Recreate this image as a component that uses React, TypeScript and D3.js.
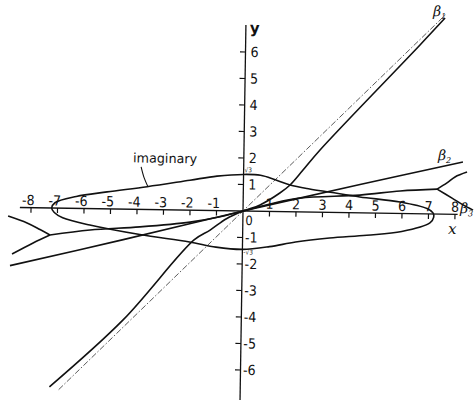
import React from "react";
import * as d3 from "d3";

// Roots beta of the characteristic equation plotted against x.
type Pt = [number, number];

const xTickValues = [-8, -7, -6, -5, -4, -3, -2, -1, 1, 2, 3, 4, 5, 6, 7, 8];
const yTickValues = [-6, -5, -4, -3, -2, -1, 1, 2, 3, 4, 5, 6];

// beta1: real root approaching the asymptote beta = x
const beta1: Pt[] = [
  [-7.2, -6.75], [-4.46, -4.18], [-1.83, -1.12], [-1.23, -0.74], [-0.62, -0.3], [0, 0],
  [0.64, 0.24], [1.38, 0.7], [1.76, 1.01], [2.24, 1.58], [2.87, 2.35], [6.58, 6.37], [7.51, 7.4],
];
// asymptote beta = x (dash-dot)
const asymptote: Pt[] = [[-6.85, -6.85], [7.55, 7.55]];

// beta2: nearly straight real root
const beta2: Pt[] = [
  [-8.76, -2.2], [-4.5, -1.15], [0, 0], [4.4, 1.07], [8.27, 1.98],
];

// beta3: real part of the complex pair between the two branch points
const beta3Real: Pt[] = [
  [-7.27, -1.02], [-5.76, -0.81], [-3.88, -0.66], [-1.99, -0.45], [-1.0, -0.26], [0, 0],
  [1.02, 0.28], [2.14, 0.52], [4.4, 0.67], [5.92, 0.85], [7.31, 0.94],
];
// real roots splitting off at the branch points
const beta3RightUp: Pt[] = [[7.31, 0.94], [7.68, 1.18], [7.98, 1.41], [8.43, 1.6]];
const beta3RightDown: Pt[] = [[7.31, 0.94], [7.88, 0.61], [8.3, 0.36], [8.68, 0.17]];
const beta3LeftUp: Pt[] = [[-7.27, -1.02], [-7.65, -0.82], [-8.14, -0.58], [-8.86, -0.33]];
const beta3LeftDown: Pt[] = [[-7.27, -1.02], [-7.9, -1.33], [-8.69, -1.76]];

// imaginary part (closed loop): upper branch left to right, lower branch right to left
const imagUpper: Pt[] = [
  [-7.22, 0], [-7.1, 0.2], [-6.3, 0.45], [-5.14, 0.64], [-3.63, 0.86], [-2.02, 1.13],
  [-1.0, 1.3], [0, 1.38], [0.64, 1.36], [1.2, 1.2], [1.76, 1.01], [2.5, 0.87],
  [3.28, 0.76], [4.4, 0.6], [5.92, 0.43], [6.94, 0.2], [7.17, 0.04],
];
const imagLower: Pt[] = [
  [7.2, -0.12], [7.06, -0.34], [6.0, -0.68], [4.68, -0.84], [3.28, -0.97], [2.0, -1.14],
  [1.02, -1.33], [0, -1.45], [-1.0, -1.38], [-2.0, -1.2], [-3.88, -0.95], [-5.77, -0.62],
  [-6.8, -0.36], [-7.12, -0.17],
];

const W = 475;
const H = 404;
const OX = 243;
const OY = 211;
const UNIT = 26.5;

const x = d3.scaleLinear().domain([0, 1]).range([OX, OX + UNIT]);
const y = d3.scaleLinear().domain([0, 1]).range([OY, OY - UNIT]);

const line = d3
  .line<Pt>()
  .x((d) => x(d[0]))
  .y((d) => y(d[1]))
  .curve(d3.curveCatmullRom.alpha(0.5));

const loop = d3
  .line<Pt>()
  .x((d) => x(d[0]))
  .y((d) => y(d[1]))
  .curve(d3.curveCatmullRomClosed.alpha(0.5));

const numFont = "'Liberation Sans Narrow', 'DejaVu Sans Condensed', 'Liberation Sans', sans-serif";
const textFont = "'DejaVu Sans', 'Liberation Sans', sans-serif";
const greekFont = "'DejaVu Serif', 'Liberation Serif', serif";

export default function App() {
  const curveStyle = { fill: "none", stroke: "#111", strokeWidth: 1.6, strokeLinejoin: "round" as const };
  return (
    <svg
      width={W}
      height={H}
      viewBox={`0 0 ${W} ${H}`}
      style={{ position: "absolute", left: 0, top: 0, background: "#fff" }}
    >
      <rect width={W} height={H} fill="#fff" />
      <g transform={`rotate(0.9, ${OX}, ${OY})`}>
        {/* axes */}
        <line x1={x(-8.42)} y1={y(0)} x2={x(8.1)} y2={y(0)} stroke="#111" strokeWidth={1.3} />
        <line x1={x(0)} y1={y(-7.13)} x2={x(0)} y2={y(7.02)} stroke="#111" strokeWidth={1.3} />

        {xTickValues.map((t) => (
          <g key={`xt${t}`}>
            <line x1={x(t)} x2={x(t)} y1={y(0)} y2={y(0) + 5} stroke="#111" strokeWidth={1.2} />
            <text
              x={t < 0 ? x(t) + 3.5 : x(t)}
              y={y(0) - 2.5}
              textAnchor={t < 0 ? "end" : "middle"}
              fontFamily={numFont}
              fontSize={14}
              fill="#111"
            >
              {t < 0 ? `-${-t}` : `${t}`}
            </text>
          </g>
        ))}

        {yTickValues.map((t) => (
          <g key={`yt${t}`}>
            <line x1={x(0) - 5.5} x2={x(0)} y1={y(t)} y2={y(t)} stroke="#111" strokeWidth={1.2} />
            <text
              x={x(0) + (t > 0 ? 5 : 2.5)}
              y={y(t) + 5}
              textAnchor="start"
              fontFamily={numFont}
              fontSize={14}
              fill="#111"
            >
              {t < 0 ? `-${-t}` : `${t}`}
            </text>
          </g>
        ))}

        <text x={x(0) + 2.5} y={y(0) + 14} fontFamily={numFont} fontSize={13} fill="#111">0</text>
        <text x={x(0) + 1} y={y(1.73) + 7} fontFamily={numFont} fontSize={6.5} fill="#111">√3</text>
        <text x={x(0) + 1} y={y(-1.73) - 2.5} fontFamily={numFont} fontSize={6.5} fill="#111">-√3</text>

        <text x={x(0) + 4} y={y(6.72)} fontFamily={textFont} fontSize={15} fontWeight={600} fill="#111">y</text>
        <text x={x(7.75)} y={y(-0.75)} fontFamily={greekFont} fontStyle="italic" fontSize={15} fill="#111">x</text>

        {/* asymptote */}
        <path
          d={line(asymptote) ?? ""}
          fill="none"
          stroke="#333"
          strokeWidth={0.8}
          strokeDasharray="6 2 1.5 2"
        />

        {/* roots */}
        <path d={line(beta1) ?? ""} {...curveStyle} />
        <path d={line(beta2) ?? ""} {...curveStyle} />
        <path d={line(beta3Real) ?? ""} {...curveStyle} />
        <path d={line(beta3RightUp) ?? ""} {...curveStyle} />
        <path d={line(beta3RightDown) ?? ""} {...curveStyle} />
        <path d={line(beta3LeftUp) ?? ""} {...curveStyle} />
        <path d={line(beta3LeftDown) ?? ""} {...curveStyle} />
        <path d={loop([...imagUpper, ...imagLower]) ?? ""} {...curveStyle} />

        {/* labels */}
        <text
          x={x(-2.97)}
          y={y(1.77)}
          textAnchor="middle"
          fontFamily={textFont}
          fontSize={13}
          textLength={64}
          lengthAdjust="spacingAndGlyphs"
          fill="#111"
        >
          imaginary
        </text>
        <path
          d={line([[-3.87, 1.6], [-3.76, 1.22], [-3.6, 0.86]]) ?? ""}
          fill="none"
          stroke="#111"
          strokeWidth={1.1}
        />

        <text x={x(7.05)} y={y(7.47)} fontFamily={greekFont} fontStyle="italic" fontSize={14} fill="#111">
          β<tspan fontSize={8} dy={3}>1</tspan>
        </text>
        <text x={x(7.33)} y={y(2.04)} fontFamily={greekFont} fontStyle="italic" fontSize={14} fill="#111">
          β<tspan fontSize={8} dy={3}>2</tspan>
        </text>
        <text x={x(8.19)} y={y(0.05)} fontFamily={greekFont} fontStyle="italic" fontSize={14} fill="#111">
          β<tspan fontSize={8} dy={3}>3</tspan>
        </text>
      </g>
    </svg>
  );
}
